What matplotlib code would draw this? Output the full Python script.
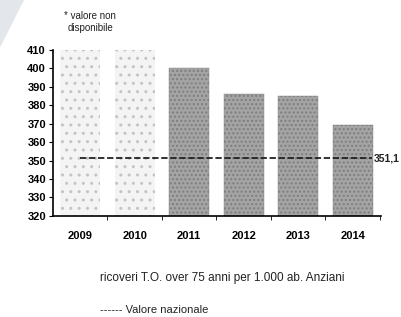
import matplotlib
matplotlib.use("Agg")
import matplotlib.pyplot as plt
from matplotlib.patches import Polygon

years = ["2009", "2010", "2011", "2012", "2013", "2014"]
values = [410, 410, 400, 386, 385, 369]          # 2009, 2010: placeholder (valore non disponibile)
available = [False, False, True, True, True, True]
national = 351.1
national_label = "351,1"
yticks = [320, 330, 340, 350, 360, 370, 380, 390, 400, 410]
legend_series = "ricoveri T.O. over 75 anni per 1.000 ab. Anziani"
legend_nat = "Valore nazionale"
note = "* valore non\ndisponibile"

plt.rcParams['font.family'] = ['Liberation Sans', 'DejaVu Sans']

fig = plt.figure(figsize=(4.01, 3.17), dpi=100)
fig.patches.append(Polygon([[0, 1], [0.06, 1], [0, 0.85]], closed=True,
                           transform=fig.transFigure, facecolor='#e3e6eb',
                           edgecolor='none', zorder=0))
ax = fig.add_axes([0.132, 0.319, 0.818, 0.524])

x = list(range(len(years)))
for xi, v, ok in zip(x, values, available):
    if ok:
        ax.bar(xi, v - 320, bottom=320, width=0.73, color='#a4a4a4',
               edgecolor='#7e7e7e', hatch='....', linewidth=0.3, zorder=2)
    else:
        ax.bar(xi, v - 320, bottom=320, width=0.73, color='#f4f4f4',
               edgecolor='#c4c4c4', hatch='..', linewidth=0.0, zorder=2)

ax.plot([0, 5.35], [national, national], linestyle=(0, (3.5, 1.5)),
        color='#222222', linewidth=1.3, zorder=3)
ax.text(5.38, national, national_label, fontsize=7.5, va='center', ha='left',
        color='#222222', fontweight='bold')

ax.set_ylim(320, 410)
ax.set_xlim(-0.5, 5.52)
ax.set_yticks(yticks)
ax.set_yticklabels([str(t) for t in yticks], fontsize=8, fontweight='bold')
ax.set_xticks(x)
ax.set_xticklabels(years, fontsize=8, fontweight='bold')
ax.tick_params(axis='x', length=0, pad=11)
ax.set_xticks([i + 0.5 for i in x], minor=True)
ax.tick_params(axis='x', which='minor', length=3, direction='out')
ax.tick_params(axis='y', length=3, direction='out', pad=2)
for s in ['top', 'right']:
    ax.spines[s].set_visible(False)
ax.spines['left'].set_linewidth(1.2)
ax.spines['bottom'].set_linewidth(1.2)

fig.text(0.225, 0.93, note, fontsize=7, ha='center', va='center',
         linespacing=1.2, color='#222222')
fig.text(0.25, 0.123, legend_series, fontsize=8.5, ha='left', va='center',
         color='#222222')
fig.text(0.25, 0.022, "------ " + legend_nat, fontsize=8, ha='left', va='center',
         color='#222222')

fig.savefig("out.png", dpi=100, facecolor='white')
